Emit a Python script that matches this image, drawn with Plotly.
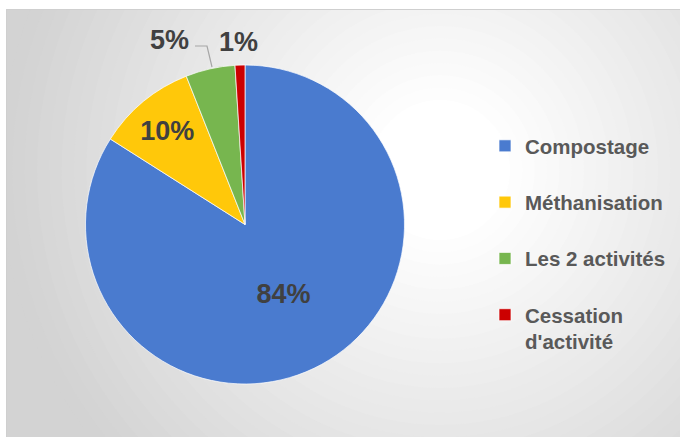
import plotly.graph_objects as go

categories = ["Compostage", "Méthanisation", "Les 2 activités", "Cessation d'activité"]
values = [84, 10, 5, 1]
colors = ["#4a7bcf", "#ffc80a", "#77b64f", "#cc0000"]
legend_labels = ["Compostage<br> ", "Méthanisation<br> ", "Les 2 activités<br> ", "Cessation<br>d'activité"]

W, H = 680, 437
domain = dict(x=[85 / W, 405 / W], y=[1 - 384 / H, 1 - 65 / H])
label_font = dict(family="Liberation Sans", size=27, color="#404040", weight="bold")

fig = go.Figure()
fig.add_trace(go.Pie(
    labels=legend_labels,
    values=values,
    sort=False,
    direction="clockwise",
    rotation=0,
    marker=dict(colors=colors, line=dict(color="rgba(255,255,255,0.7)", width=1)),
    texttemplate=["%{value}%", "%{value}%", "", ""],
    textposition=["inside", "inside", "none", "none"],
    insidetextorientation="horizontal",
    textfont=label_font,
    domain=domain,
    hoverinfo="label+percent",
))

# outside data labels for the two small slices (placed as in the reference)
outside_labels = [
    dict(text=f"{values[2]}%", x=169, y=40),
    dict(text=f"{values[3]}%", x=239, y=42),
]
annotations = [
    dict(text=o["text"], x=o["x"] / W, y=1 - o["y"] / H, xref="paper", yref="paper",
         showarrow=False, font=label_font, xanchor="center", yanchor="middle")
    for o in outside_labels
]

# radial gradient background built from layered circles
shapes = [dict(type="rect", xref="paper", yref="paper", x0=0, x1=1, y0=0, y1=1,
               fillcolor="#d3d3d3", line=dict(width=0), layer="below")]
cx, cy = 440, 170  # pixel centre of gradient (from top-left)
n = 30
rmax, rmin = 440, 70
for i in range(n + 1):
    t = i / n
    r = rmax - (rmax - rmin) * t
    g = int(211 + (255 - 211) * t)
    shapes.append(dict(
        type="circle", xref="paper", yref="paper",
        xsizemode="pixel", ysizemode="pixel",
        xanchor=cx / W, yanchor=1 - cy / H,
        x0=-r, x1=r, y0=-r, y1=r,
        fillcolor=f"rgb({g},{g},{g})", line=dict(width=0), layer="below"))
# white outer margins and frame border
shapes.append(dict(type="rect", xref="paper", yref="paper", x0=0, x1=1, y0=1 - 9 / H, y1=1,
                   fillcolor="white", line=dict(width=0), layer="below"))
shapes.append(dict(type="rect", xref="paper", yref="paper", x0=0, x1=6 / W, y0=0, y1=1,
                   fillcolor="white", line=dict(width=0), layer="below"))
shapes.append(dict(type="rect", xref="paper", yref="paper", x0=6.5 / W, x1=1.01, y0=-0.01, y1=1 - 9.5 / H,
                   fillcolor="rgba(0,0,0,0)", line=dict(color="#cfcfcf", width=1), layer="below"))
# leader line of the 5% label
pts = [(195, 46), (207, 46), (212, 67)]
path = "M" + " L".join(f"{px / W},{1 - py / H}" for px, py in pts)
shapes.append(dict(type="path", xref="paper", yref="paper", path=path,
                   line=dict(color="#a6a6a6", width=1.2)))

fig.update_layout(
    width=W, height=H,
    margin=dict(l=0, r=0, t=0, b=0),
    paper_bgcolor="white",
    shapes=shapes,
    annotations=annotations,
    showlegend=True,
    legend=dict(
        x=485 / W, y=1 - 126 / H, xanchor="left", yanchor="top",
        valign="top",
        bgcolor="rgba(0,0,0,0)",
        font=dict(family="Liberation Sans", size=20.5, color="#595959", weight="bold"),
    ),
)

fig.write_html("out.html", config={"displayModeBar": False},
               post_script="document.body.style.margin='0';")
